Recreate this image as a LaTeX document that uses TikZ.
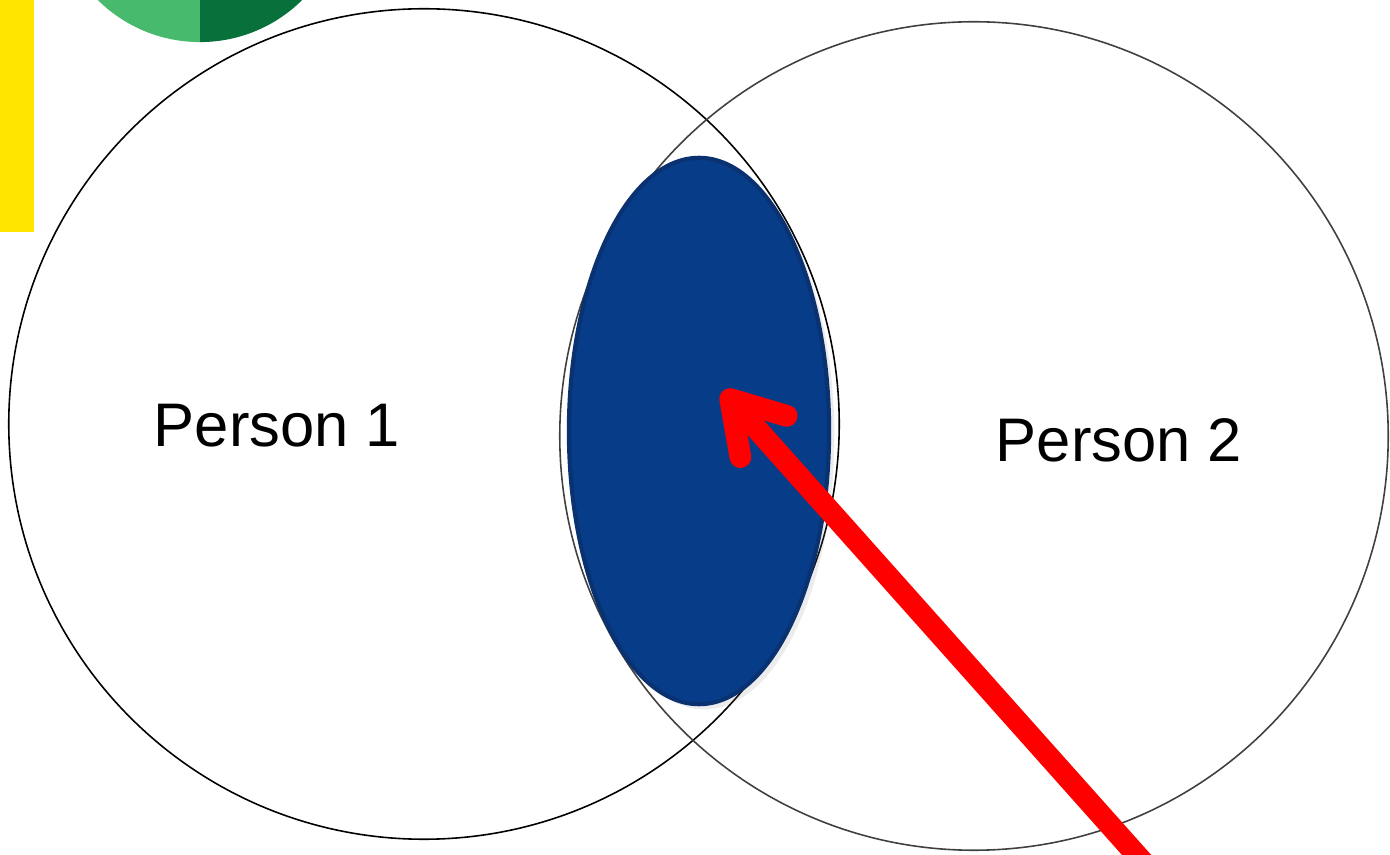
\documentclass[tikz,border=0pt]{standalone}
\usepackage{fontspec}
\setmainfont{Liberation Sans}
\usepackage{xcolor}
\usetikzlibrary{arrows.meta,shapes.geometric,shadows}

\definecolor{barYellow}{HTML}{FFE500}
\definecolor{leafLight}{HTML}{48BA6E}
\definecolor{leafDark}{HTML}{08703A}
\definecolor{overlapBlue}{HTML}{073C88}
\definecolor{overlapEdge}{HTML}{0A3270}
\definecolor{ringGray}{HTML}{404040}

\begin{document}
\begin{tikzpicture}[x=0.01cm,y=-0.01cm,
  ring/.style={circle,draw,inner sep=0pt,line width=0.45pt},
  who/.style={font=\fontsize{17.5}{21}\selectfont,inner sep=0pt},
  >={Straight Barb[length=5mm,width=6.2mm,round]}]
  \useasboundingbox (0,0) rectangle (1390,855);
  \clip (0,0) rectangle (1390,855);
  % corner decoration
  \fill[barYellow] (0,0) rectangle (34,232);
  \begin{scope}
    \clip (200,-103) circle[radius=1.45cm];
    \fill[leafLight] (40,-300) rectangle (200,60);
    \fill[leafDark] (200,-300) rectangle (360,60);
  \end{scope}
  % the two people
  \node[ring,minimum size=8.3cm] (person1) at (424,424) {};
  \node[ring,draw=ringGray,minimum size=8.28cm] (person2) at (974,436) {};
  \node[who] (p1label) at (277,426) {Person 1};
  \node[who] (p2label) at (1119,440) {Person 2};
  % shared part
  \node[ellipse,draw=overlapEdge,fill=overlapBlue,line width=1.2pt,inner sep=0pt,
    minimum width=2.6cm,minimum height=5.46cm,
    drop shadow={opacity=0.15,shadow xshift=1.5pt,shadow yshift=-1.5pt}] (overlap) at (699,431) {};
  \coordinate (aim) at (723,391);
  \coordinate (tail) at (1150,870);
  \draw[->,red,line width=6.2pt] (tail) -- (aim);
\end{tikzpicture}
\end{document}
